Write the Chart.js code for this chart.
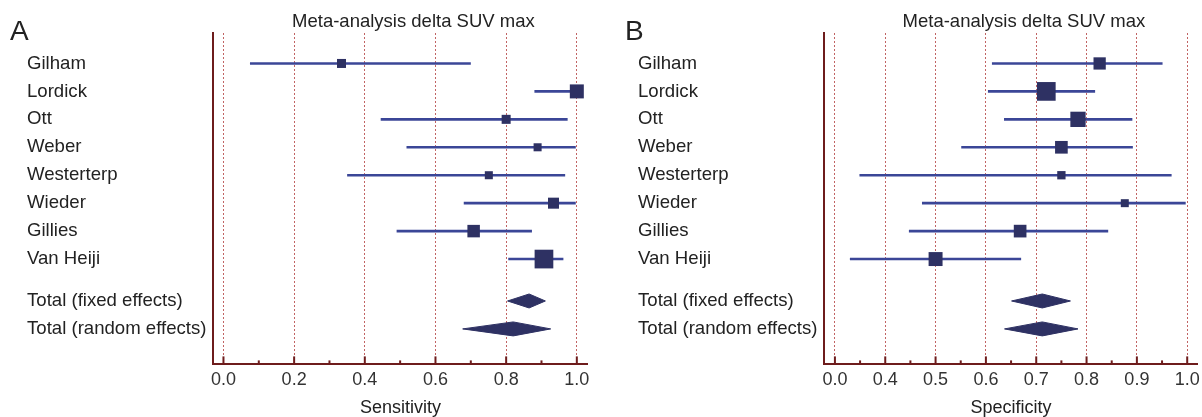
<!DOCTYPE html>
<html>
<head>
<meta charset="utf-8">
<script src="https://cdn.jsdelivr.net/npm/chart.js@4.4.1/dist/chart.umd.min.js"></script>
<style>
  html, body { margin: 0; padding: 0; background: #fff; overflow: hidden; }
  .panel { position: absolute; top: 0; }
  #wrapA { left: 0; }
  #wrapB { left: 601px; }
</style>
</head>
<body>
<div class="panel" id="wrapA"><canvas id="chartA" width="601" height="417"></canvas></div>
<div class="panel" id="wrapB"><canvas id="chartB" width="610" height="417"></canvas></div>
<script>
// rows
const studies = ['Gilham', 'Lordick', 'Ott', 'Weber', 'Westerterp', 'Wieder', 'Gillies', 'Van Heiji'];
const totals = ['Total (fixed effects)', 'Total (random effects)'];

// panel A - sensitivity
const sensTicks = ['0.0', '0.2', '0.4', '0.6', '0.8', '1.0'];
const sensEst = [0.334, 1.0, 0.80, 0.889, 0.751, 0.934, 0.708, 0.907];
const sensLow = [0.075, 0.88, 0.445, 0.518, 0.35, 0.68, 0.49, 0.806];
const sensHigh = [0.70, 1.0, 0.974, 0.997, 0.967, 0.997, 0.873, 0.962];
const sensWeight = [7.3, 17.6, 7.3, 5.8, 5.8, 10.9, 14.0, 31.4];
const sensTotEst = [0.865, 0.82];
const sensTotLow = [0.804, 0.677];
const sensTotHigh = [0.911, 0.926];

// panel B - specificity (axis labels are not evenly spaced in value)
const specTicks = ['0.0', '0.4', '0.5', '0.6', '0.7', '0.8', '0.9', '1.0'];
const specEst = [0.826, 0.72, 0.783, 0.75, 0.75, 0.876, 0.668, 0.5];
const specLow = [0.612, 0.604, 0.636, 0.551, 0.195, 0.473, 0.447, 0.119];
const specHigh = [0.951, 0.817, 0.891, 0.892, 0.969, 0.997, 0.843, 0.67];
const specWeight = [10.9, 25.3, 16.9, 11.6, 5.0, 4.6, 11.6, 14.1];
const specTotEst = [0.712, 0.712];
const specTotLow = [0.651, 0.637];
const specTotHigh = [0.768, 0.783];

const FONT = '"Liberation Sans", Arial, sans-serif';
const navy = '#2e3163';
const ciBlue = '#3b4697';
const axisRed = '#6e1c1c';
const gridRed = 'rgba(178, 60, 60, 0.8)';
const maxBox = 18.7;

Chart.defaults.font.family = FONT;

const rowNames = studies.concat(totals);
const rowPos = studies.map((s, i) => i).concat([studies.length + 0.5, studies.length + 1.5]);

// value -> position along the axis, piecewise between the labelled ticks
function toPos(v, ticks) {
  const t = ticks.map(Number);
  for (let i = 0; i < t.length - 1; i++) {
    if (v <= t[i + 1] || i === t.length - 2) return i + (v - t[i]) / (t[i + 1] - t[i]);
  }
}

const decor = {
  id: 'decor',
  afterDraw(chart, args, o) {
    const { ctx, chartArea: a, scales: { x } } = chart;
    ctx.save();
    ctx.strokeStyle = axisRed;
    ctx.lineWidth = 2;
    x.ticks.forEach(t => {
      const px = x.getPixelForValue(t.value);
      const len = Number.isInteger(t.value) ? 8 : 4;
      ctx.beginPath();
      ctx.moveTo(px, a.bottom);
      ctx.lineTo(px, a.bottom - len);
      ctx.stroke();
    });
    ctx.fillStyle = '#222';
    ctx.textAlign = 'center';
    ctx.textBaseline = 'alphabetic';
    ctx.font = '18.5px ' + FONT;
    ctx.fillText(o.title, (a.left + a.right) / 2 + 13, 27);
    ctx.textAlign = 'left';
    ctx.font = '28px ' + FONT;
    ctx.fillText(o.letter, o.letterX, 40);
    ctx.restore();
  }
};

function makePanel(id, p) {
  const wMax = Math.max(...p.weight);
  const boxes = {
    type: 'scatter',
    data: p.est.map((v, i) => ({ x: toPos(v, p.ticks), y: rowPos[i] })),
    pointStyle: 'rect',
    pointRadius: p.weight.map(w => maxBox * Math.sqrt(w / wMax) / Math.SQRT2),
    pointHoverRadius: p.weight.map(w => maxBox * Math.sqrt(w / wMax) / Math.SQRT2),
    backgroundColor: navy,
    borderColor: navy,
    borderWidth: 0,
    clip: false
  };
  const diamonds = p.totEst.map((c, j) => {
    const r = rowPos[studies.length + j];
    const lo = toPos(p.totLow[j], p.ticks), hi = toPos(p.totHigh[j], p.ticks), mid = toPos(c, p.ticks);
    return {
      type: 'scatter',
      showLine: true,
      fill: 'shape',
      data: [{ x: lo, y: r }, { x: mid, y: r - 0.25 }, { x: hi, y: r }, { x: mid, y: r + 0.25 }, { x: lo, y: r }],
      backgroundColor: navy,
      borderColor: navy,
      borderWidth: 1,
      pointRadius: 0,
      clip: false
    };
  });
  const lines = p.est.map((v, i) => ({
    type: 'scatter',
    showLine: true,
    data: [{ x: toPos(p.low[i], p.ticks), y: rowPos[i] }, { x: toPos(p.high[i], p.ticks), y: rowPos[i] }],
    borderColor: ciBlue,
    borderWidth: 2.6,
    pointRadius: 0,
    clip: false
  }));

  return new Chart(document.getElementById(id), {
    type: 'scatter',
    data: { datasets: [boxes].concat(diamonds, lines) },
    plugins: [decor],
    options: {
      responsive: false,
      animation: false,
      layout: { padding: { left: p.padLeft, right: 11, top: 33, bottom: 0 } },
      plugins: {
        legend: { display: false },
        tooltip: { enabled: false },
        decor: { title: 'Meta-analysis delta SUV max', letter: p.letter, letterX: p.letterX }
      },
      scales: {
        x: {
          type: 'linear',
          min: p.xMin,
          max: p.xMax,
          afterBuildTicks: s => {
            s.ticks = [];
            for (let q = 0; q <= p.ticks.length - 1; q += 0.5) s.ticks.push({ value: q });
          },
          ticks: {
            autoSkip: false,
            maxRotation: 0,
            padding: 5,
            color: '#333',
            font: { size: 18 },
            callback: v => Number.isInteger(v) ? p.ticks[v] : ''
          },
          grid: {
            drawTicks: false,
            lineWidth: 1,
            color: c => (c.tick && Number.isInteger(c.tick.value)) ? gridRed : 'rgba(0,0,0,0)'
          },
          border: { display: true, color: axisRed, width: 2, dash: [2, 2] },
          title: { display: true, text: p.axisTitle, color: '#222', font: { size: 18, lineHeight: 1 }, padding: { top: 3, bottom: 0 } }
        },
        y: {
          type: 'linear',
          reverse: true,
          min: -1.09,
          max: 10.77,
          afterBuildTicks: s => { s.ticks = rowPos.map(v => ({ value: v })); },
          afterFit: s => { s.width = 186; },
          ticks: {
            autoSkip: false,
            crossAlign: 'far',
            padding: 0,
            color: '#222',
            font: { size: 18.6 },
            callback: (v, i) => rowNames[i]
          },
          grid: { display: false, drawTicks: false },
          border: { display: true, color: axisRed, width: 2 }
        }
      }
    }
  });
}

makePanel('chartA', {
  letter: 'A', letterX: 10, padLeft: 27, axisTitle: 'Sensitivity',
  ticks: sensTicks, est: sensEst, low: sensLow, high: sensHigh, weight: sensWeight,
  totEst: sensTotEst, totLow: sensTotLow, totHigh: sensTotHigh,
  xMin: -0.148, xMax: 5.155
});

makePanel('chartB', {
  letter: 'B', letterX: 24, padLeft: 37, axisTitle: 'Specificity',
  ticks: specTicks, est: specEst, low: specLow, high: specHigh, weight: specWeight,
  totEst: specTotEst, totLow: specTotLow, totHigh: specTotHigh,
  xMin: -0.217, xMax: 7.21
});
</script>
</body>
</html>
